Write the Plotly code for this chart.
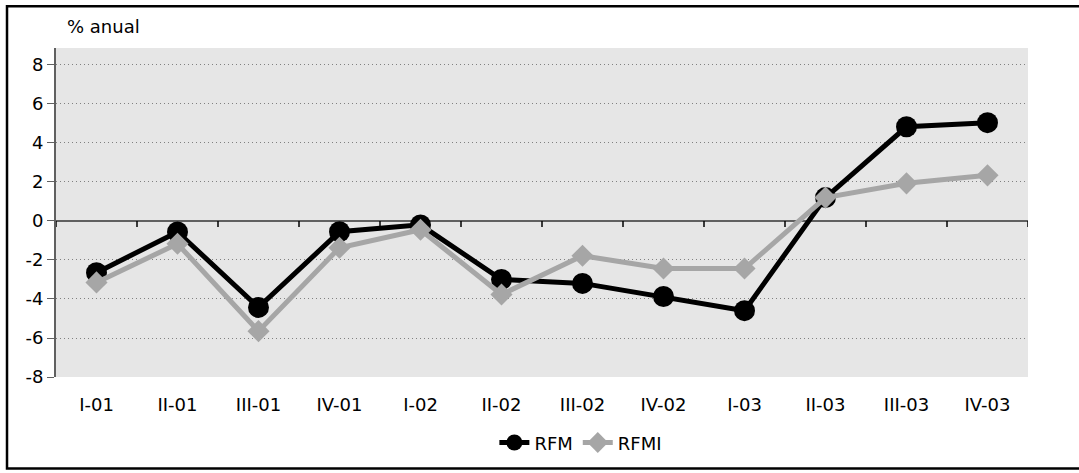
import plotly.graph_objects as go

# Dados
trimestres = ['I-01', 'II-01', 'III-01', 'IV-01', 'I-02', 'II-02',
              'III-02', 'IV-02', 'I-03', 'II-03', 'III-03', 'IV-03']
rfm = [-2.65, -0.56, -4.43, -0.55, -0.2, -3.0, -3.2, -3.87, -4.6, 1.2, 4.83, 5.04]
rfmi = [-3.15, -1.17, -5.65, -1.37, -0.45, -3.77, -1.78, -2.44, -2.44, 1.2, 1.93, 2.34]
y_ticks = [-8, -6, -4, -2, 0, 2, 4, 6, 8]

y_min, y_max = -8, 8.87
n = len(trimestres)
x_range = [-0.5, n - 0.5]
limites = [i - 0.5 for i in range(n + 1)]

FONT = 'DejaVu Sans, Verdana, sans-serif'
AXIS_COLOR = '#606060'

fig = go.Figure()

fig.add_trace(go.Scatter(
    x=trimestres, y=rfm, name='RFM', mode='lines+markers',
    line=dict(color='black', width=5),
    marker=dict(symbol='circle', size=21, color='black'),
))
fig.add_trace(go.Scatter(
    x=trimestres, y=rfmi, name='RFMI', mode='lines+markers',
    line=dict(color='#a6a6a6', width=5),
    marker=dict(symbol='diamond', size=17, color='#a6a6a6'),
))

# marcas no eixo do zero, nos limites das categorias
marcas = [dict(
    type='line', xref='x', yref='y', x0=b, x1=b,
    ysizemode='pixel', yanchor=0, y0=0, y1=-6,
    line=dict(color='black', width=1.5), layer='above',
) for b in limites]

moldura = dict(
    type='rect', xref='paper', yref='paper',
    x0=-0.0504, x1=1.08, y0=-0.278, y1=1.127,
    line=dict(color='black', width=2.5), layer='below',
)

fig.update_layout(
    width=1079, height=473,
    paper_bgcolor='white',
    plot_bgcolor='#e6e6e6',
    margin=dict(l=56, r=51, t=48, b=94),
    font=dict(family=FONT, size=18, color='black'),
    showlegend=True,
    legend=dict(
        orientation='h', x=0.54, xanchor='center', y=-0.2, yanchor='middle',
        font=dict(size=18), bgcolor='rgba(0,0,0,0)',
    ),
    xaxis=dict(
        type='category', categoryorder='array', categoryarray=trimestres,
        range=x_range,
        showline=False, showgrid=False, zeroline=False, ticks='',
        ticklabelstandoff=15, tickfont=dict(size=18),
    ),
    yaxis=dict(
        range=[y_min, y_max], tickvals=y_ticks,
        ticktext=[str(v) for v in y_ticks],
        showline=True, linecolor=AXIS_COLOR, linewidth=2,
        ticks='outside', ticklen=7, tickcolor=AXIS_COLOR,
        showgrid=True, gridcolor='#808080', griddash='1px,3px', gridwidth=1,
        zeroline=True, zerolinecolor=AXIS_COLOR, zerolinewidth=2,
        tickfont=dict(size=18),
    ),
    annotations=[dict(
        text='% anual', xref='paper', yref='paper', x=0.009, y=1.065,
        xanchor='left', yanchor='middle', showarrow=False,
        font=dict(size=18),
    )],
    shapes=[moldura] + marcas,
)

fig.write_html('out.html', config={'displayModeBar': False},
               post_script="document.body.style.margin='0';")
